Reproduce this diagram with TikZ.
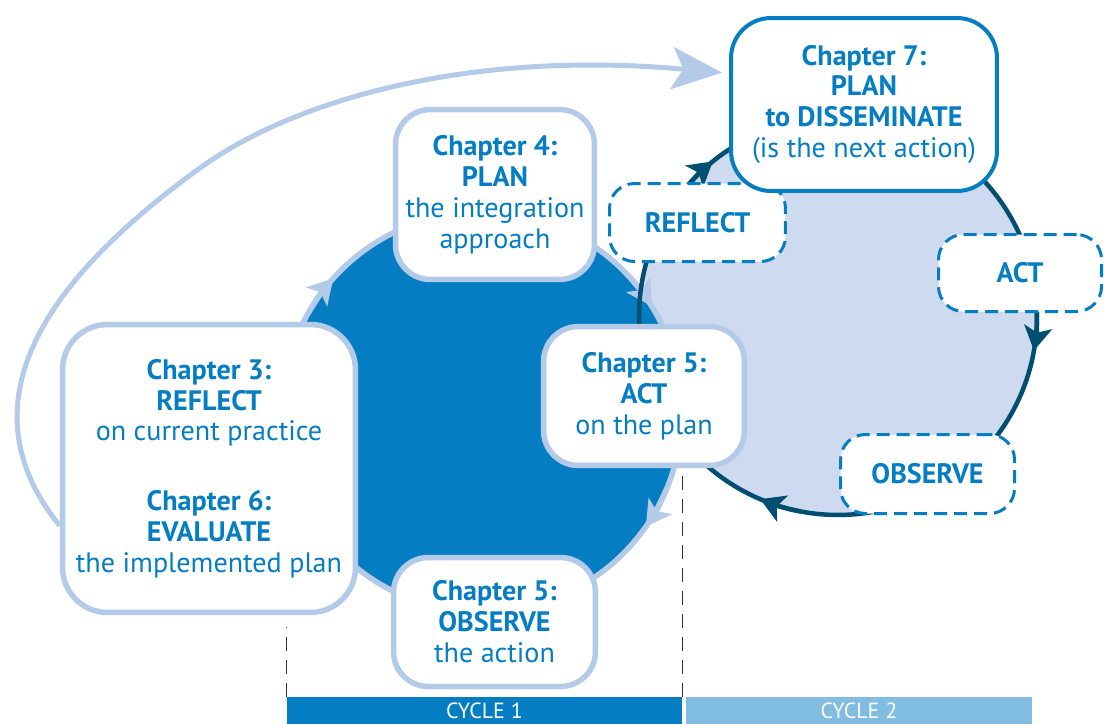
\documentclass[tikz,border=0pt]{standalone}
\usepackage{fontspec}
\setmainfont{PT Sans}
\usepackage{xcolor}
\usepackage{tikz}
\usetikzlibrary{arrows.meta,positioning}
\definecolor{cycone}{RGB}{4,125,194}
\definecolor{cyclight}{RGB}{180,202,233}
\definecolor{cyctwo}{RGB}{205,218,240}
\definecolor{cycdark}{RGB}{0,79,113}
\definecolor{cycbar}{RGB}{128,189,225}

\begin{document}
\begin{tikzpicture}[x=0.02cm, y=-0.02cm,
  chapbox/.style={draw=cyclight, line width=0.11cm, fill=white, rounded corners=0.7cm, inner sep=0pt, align=center, text=cycone, font=\fontsize{16}{17.6}\selectfont},
  nextbox/.style={chapbox, draw=cycone, line width=0.08cm, rounded corners=0.8cm},
  dashbox/.style={chapbox, draw=cycone, line width=0.06cm, dash pattern=on 0.26cm off 0.14cm, rounded corners=0.5cm, font=\fontsize{16}{17.6}\selectfont\bfseries},
  cyclebar/.style={inner sep=0pt, minimum height=0.54cm, text=white, font=\fontsize{12.5}{13}\selectfont},
  guide/.style={draw=black!80, line width=0.03cm, dash pattern=on 0.28cm off 0.18cm},
  onetip/.style={draw=cyclight, line width=0.11cm, -{Stealth[length=0.5cm,width=0.56cm,inset=0.12cm]}},
  twotip/.style={draw=cycdark, line width=0.09cm, -{Stealth[length=0.48cm,width=0.56cm,inset=0.12cm]}},
  backarc/.style={draw=cyclight, line width=0.1cm, shorten >=0.14cm, -{Stealth[length=1cm,width=0.84cm,inset=0.22cm]}}]
\useasboundingbox (0,0) rectangle (1104,724);

\coordinate (c1) at (482,412);
\coordinate (c2) at (838,316);
\fill[cyctwo] (c2) circle[radius=3.98cm];
\draw[draw=cyclight, fill=cycone, line width=0.11cm] (c1) circle[radius=4cm];
\foreach \a/\b in {150/138,44/32,-23/-35}
  \draw[onetip] (c1) ++(\a:4cm) arc[start angle=\a, end angle=\b, radius=4cm];
\draw[cycdark, line width=0.09cm] (c2) circle[radius=3.98cm];
\foreach \a/\b in {141/129,2/-10,-101/-113}
  \draw[twotip] (c2) ++(\a:3.98cm) arc[start angle=\a, end angle=\b, radius=3.98cm];

\node[chapbox, rounded corners=0.9cm, minimum width=5.86cm, minimum height=5.76cm] (ch36) at (209,468.5)
  {\textbf{Chapter 3:}\\\textbf{REFLECT}\\on current practice\\[22pt]\textbf{Chapter 6:}\\\textbf{EVALUATE}\\the implemented plan};
\node[chapbox, minimum width=3.98cm, minimum height=3.4cm] (ch4) at (495,194.5)
  {\textbf{Chapter 4:}\\\textbf{PLAN}\\the integration\\approach};
\node[chapbox, minimum width=4.02cm, minimum height=2.78cm] (ch5act) at (644,396)
  {\textbf{Chapter 5:}\\\textbf{ACT}\\on the plan};
\node[chapbox, minimum width=4.04cm, minimum height=2.58cm] (ch5obs) at (494.5,622)
  {\textbf{Chapter 5:}\\\textbf{OBSERVE}\\the action};

\node[dashbox, minimum width=3.52cm, minimum height=1.56cm] (reflect2) at (697.5,222.5) {REFLECT};
\node[dashbox, minimum width=3.26cm, minimum height=1.54cm] (act2) at (1020,273) {ACT};
\node[dashbox, minimum width=3.48cm, minimum height=1.58cm] (obs2) at (927.5,474) {OBSERVE};
\node[nextbox, minimum width=5.32cm, minimum height=3.46cm] (ch7) at (864,104.5)
  {\textbf{Chapter 7:}\\\textbf{PLAN}\\\textbf{to DISSEMINATE}\\(is the next action)};

\draw[backarc] (ch36.201) .. controls (-21,426) and (6,308) .. (200,168) .. controls (297,98) and (473,50) .. (ch7.167);

\node[cyclebar, fill=cycone, minimum width=7.9cm] (bar1) at (484.5,710.5) {CYCLE 1};
\node[cyclebar, fill=cycbar, minimum width=6.92cm] (bar2) at (859,710.5) {CYCLE 2};
\draw[guide, shorten >=0.24cm] (bar1.north west) -- (bar1.north west |- ch36.south);
\draw[guide] (bar1.north east) -- (bar1.north east |- ch5act.south);
\end{tikzpicture}
\end{document}
